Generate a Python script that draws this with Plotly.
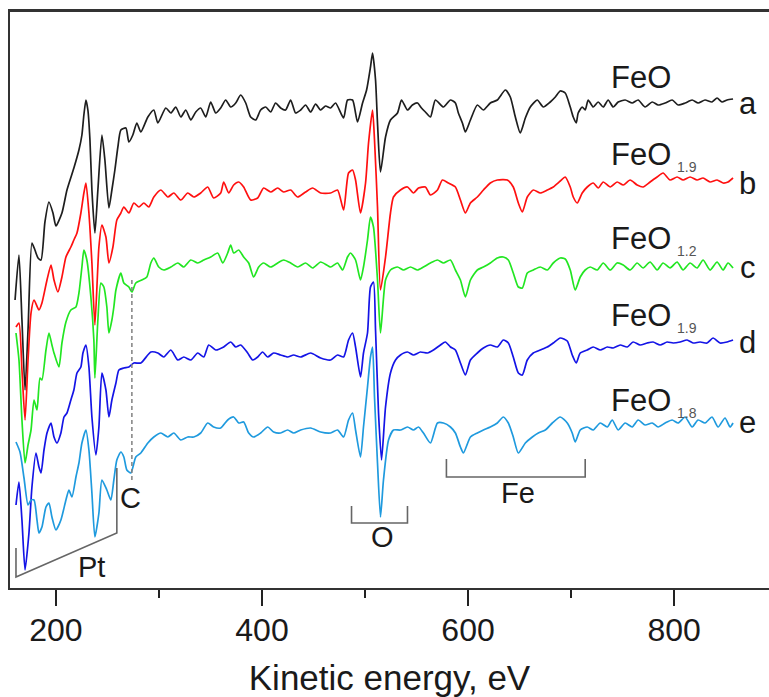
import plotly.graph_objects as go

# ---------------- data (kinetic energy in eV, intensity in arbitrary units, curves offset) ----------------
a_energy = [160.3,164.1,167.0,170.0,172.9,176.7,179.6,182.6,185.5,189.3,193.2,197.1,200.0,205.8,210.7,217.4,222.3,225.2,227.1,229.1,
            231.0,233.0,234.9,237.8,240.7,244.6,247.5,251.4,254.3,257.2,260.1,263.0,267.9,270.8,274.6,278.5,282.4,289.2,295.0,298.9,
            306.6,311.5,316.3,321.2,326.0,330.9,335.7,340.5,345.4,350.2,355.1,359.9,364.8,369.6,374.5,379.3,384.2,389.0,393.9,398.7,
            403.6,408.4,413.2,418.1,422.9,427.8,432.6,437.5,442.3,447.2,452.0,456.9,461.7,466.6,471.4,479.2,483.0,487.9,492.7,497.6,
            501.5,505.3,507.3,510.2,512.1,515.0,519.9,524.7,531.5,535.4,541.2,546.0,550.9,554.8,558.6,563.5,568.3,576.1,582.9,587.7,
            590.6,594.5,597.4,602.3,609.0,614.9,621.6,628.4,636.2,641.0,645.9,650.7,655.6,660.4,667.2,673.0,679.8,684.7,689.5,694.3,
            699.2,702.1,705.0,706.9,710.8,713.7,716.6,721.5,726.3,731.2,736.0,740.9,745.7,752.5,759.3,765.1,771.9,778.7,784.5,791.3,
            798.1,803.9,810.7,817.5,823.3,830.0,836.8,841.7,846.5,851.4,857.2]
a_intensity = [288,333,268,198,258,345,338,330,328,366,386,375,362,375,398,420,438,453,473,488,
               478,448,398,355,398,453,428,380,398,418,441,458,460,446,453,465,456,471,478,465,
               480,475,481,471,478,468,476,480,471,486,475,480,488,481,485,493,485,471,468,478,
               481,476,485,480,478,488,475,478,483,476,484,478,482,480,485,470,488,488,466,485,
               498,521,535,508,465,416,451,468,475,488,478,483,485,480,476,471,488,481,488,485,
               475,465,456,468,483,478,485,488,498,491,471,455,470,481,488,481,486,491,497,495,
               481,471,465,475,481,478,488,481,486,481,488,481,486,488,485,488,481,486,483,485,
               488,483,485,488,485,488,486,490,486,488,489]

b_energy = [161.2,164.1,167.0,170.0,172.9,175.8,178.7,183.5,186.4,191.3,195.2,198.1,201.9,205.8,209.7,214.5,217.4,220.4,224.2,227.1,
            229.1,232.0,234.9,237.8,241.7,244.6,248.5,251.4,255.3,259.1,263.0,265.9,270.8,275.6,280.5,285.3,290.1,295.0,301.8,308.6,
            314.4,321.2,327.9,333.8,340.5,347.3,353.1,359.9,362.8,367.7,372.5,377.4,382.2,389.0,395.8,401.6,408.4,415.2,421.0,427.8,
            434.6,442.3,449.1,456.9,466.6,473.3,479.2,484.0,487.9,490.8,495.6,500.5,503.4,507.3,509.2,512.1,515.0,519.9,524.7,527.6,
            534.4,541.2,547.0,551.9,558.6,563.5,570.3,575.1,580.9,587.7,592.6,597.4,602.3,609.0,614.9,621.6,628.4,638.1,643.9,648.8,
            652.7,657.5,663.3,670.1,676.9,682.7,689.5,694.3,699.2,702.1,706.0,710.8,715.7,721.5,726.3,731.2,738.0,744.7,750.6,757.3,
            764.1,769.9,776.7,783.5,789.3,796.1,802.9,808.7,815.5,822.3,828.1,834.9,841.7,847.5,852.3,857.2]
b_intensity = [261,265,218,168,228,275,288,278,285,308,323,308,296,311,331,341,348,355,375,395,
               405,375,325,263,341,363,351,325,341,368,375,381,375,385,381,385,381,391,398,391,
               395,388,395,391,395,401,390,395,406,395,403,406,401,388,390,400,396,400,396,398,
               391,396,400,395,395,398,378,415,418,408,375,405,445,478,448,381,298,331,375,391,
               398,401,395,400,401,393,398,408,405,401,388,375,385,391,398,405,408,408,401,385,
               376,391,398,395,398,401,407,411,401,391,385,395,401,405,400,406,401,406,403,408,
               403,401,406,411,415,408,411,408,411,408,410,406,408,405,406,410]

c_energy = [161.2,164.1,167.0,170.0,172.9,175.8,178.7,181.6,184.5,186.4,190.3,193.2,196.1,198.1,202.9,205.8,209.7,214.5,219.4,222.3,
            225.2,227.1,230.0,233.9,236.8,237.8,240.7,243.6,246.5,249.4,251.4,254.3,256.2,258.2,263.0,265.9,270.8,273.7,277.5,283.4,
            288.2,292.1,295.0,299.8,304.7,311.5,318.3,324.1,330.9,337.6,343.5,350.2,357.0,361.9,366.7,369.6,372.5,377.4,382.2,387.1,
            391.9,396.8,401.6,408.4,415.2,421.0,427.8,434.6,442.3,449.1,456.9,466.6,473.3,478.2,483.0,485.9,490.8,495.6,498.5,502.4,
            505.3,508.2,512.1,515.0,519.9,524.7,531.5,537.3,544.1,550.9,556.7,563.5,570.3,576.1,582.9,587.7,592.6,597.4,602.3,609.0,
            614.9,621.6,628.4,634.2,639.1,643.9,648.8,652.7,657.5,663.3,670.1,676.9,682.7,689.5,694.3,699.2,704.0,708.9,713.7,718.6,
            725.4,731.2,738.0,744.7,750.6,757.3,764.1,769.9,776.7,783.5,789.3,796.1,802.9,808.7,815.5,822.3,828.1,834.9,841.7,847.5,
            852.3,857.2]
c_intensity = [255,228,168,125,143,158,188,178,210,208,238,255,243,235,221,245,266,278,281,295,
               321,338,328,291,248,210,268,305,301,281,255,268,281,298,315,305,301,296,305,308,
               311,325,330,321,318,321,325,321,328,325,328,331,335,325,335,343,335,338,331,325,
               311,321,325,321,325,328,325,321,325,320,326,321,325,318,331,335,328,308,321,348,
               371,361,308,255,308,318,321,318,321,318,321,325,328,325,328,318,308,291,308,318,
               321,325,330,331,328,315,301,300,315,318,321,318,325,330,329,318,298,311,318,321,
               318,325,318,325,323,318,325,320,326,318,325,320,326,318,325,320,328,318,326,318,
               325,320]

d_energy = [161.2,164.1,167.0,170.0,173.8,176.7,180.6,183.5,185.5,188.4,191.3,195.2,198.1,201.0,204.8,207.8,210.7,214.5,217.4,220.4,
            224.2,226.2,229.1,232.0,234.9,238.8,241.7,244.6,248.5,251.4,254.3,258.2,261.1,265.9,270.8,275.6,282.4,292.1,298.9,304.7,
            311.5,318.3,324.1,330.9,337.6,343.5,348.3,355.1,362.8,369.6,374.5,379.3,386.1,390.9,395.8,400.6,405.5,411.3,418.1,424.9,
            430.7,437.5,447.2,456.9,466.6,473.3,479.2,484.0,487.9,490.8,495.6,498.5,502.4,505.3,508.2,510.2,513.1,516.0,519.9,524.7,
            529.6,534.4,541.2,547.0,553.8,560.6,566.4,573.2,578.0,582.9,587.7,592.6,597.4,602.3,609.0,614.9,621.6,628.4,634.2,639.1,
            643.9,648.8,652.7,657.5,663.3,670.1,676.9,682.7,689.5,696.3,701.1,705.0,708.9,715.7,721.5,728.3,735.1,740.9,747.7,754.5,
            760.2,767.0,773.8,779.6,786.4,793.2,799.0,805.8,812.6,818.4,825.2,832.0,837.8,844.6,851.4,857.2]
d_intensity = [83,106,68,18,55,101,135,121,115,138,155,165,151,145,155,171,175,188,198,215,
               221,235,243,221,171,133,161,215,198,171,188,205,218,220,221,225,225,236,235,231,
               238,228,231,228,235,231,243,238,241,246,241,243,235,228,231,236,231,235,233,231,
               233,231,235,230,228,233,231,248,255,241,211,235,255,301,306,258,175,128,181,215,
               228,233,236,233,236,235,238,243,246,241,238,225,213,228,235,240,243,241,248,245,
               231,215,213,228,235,238,241,245,250,247,233,225,235,238,241,238,241,240,243,241,
               246,243,245,246,243,246,245,246,248,245,246,245,250,245,246,248]

e_energy = [161.2,165.1,169.0,172.9,175.8,178.7,181.6,183.5,186.4,190.3,193.2,196.1,200.0,204.8,209.7,212.6,215.5,219.4,222.3,225.2,
            229.1,232.0,234.9,237.8,241.7,244.6,249.4,253.3,256.2,259.1,263.0,265.9,268.8,272.7,277.5,282.4,289.2,295.0,301.8,308.6,
            314.4,321.2,327.9,333.8,340.5,347.3,353.1,359.9,366.7,372.5,377.4,382.2,387.1,391.9,398.7,405.5,411.3,418.1,424.9,430.7,
            437.5,447.2,456.9,466.6,473.3,479.2,484.0,487.9,490.8,495.6,498.5,502.4,505.3,507.3,509.2,512.1,515.0,517.9,522.8,527.6,
            534.4,541.2,547.0,551.9,556.7,563.5,570.3,576.1,582.9,587.7,592.6,595.5,602.3,609.0,614.9,621.6,628.4,634.2,639.1,643.9,
            648.8,655.6,662.4,668.2,675.0,681.8,689.5,696.3,701.1,704.0,708.9,715.7,721.5,728.3,735.1,739.9,745.7,752.5,759.3,765.1,
            771.9,778.7,784.5,791.3,798.1,803.9,810.7,817.5,823.3,830.0,836.8,842.7,849.4,854.3,857.2]
e_intensity = [146,136,110,83,88,88,68,55,61,81,85,71,58,68,88,98,91,111,125,145,
               158,138,95,51,75,108,98,88,108,128,136,131,118,115,131,135,145,151,155,151,
               155,148,151,151,155,165,161,160,168,171,165,166,155,151,155,161,156,155,158,155,
               158,160,156,155,158,151,168,175,158,131,161,201,231,241,191,125,71,108,148,158,
               158,161,158,161,155,145,165,165,161,155,141,135,151,155,158,161,165,171,165,151,
               135,145,151,155,158,165,171,165,155,146,158,161,158,165,161,168,158,165,161,168,
               163,165,161,165,168,165,171,161,168,165,171,161,170,161,165]

series_names = ["a", "b", "c", "d", "e"]
series_colors = ["#1e1e1e", "#ff1010", "#22e622", "#1414e6", "#1f9ade"]

label_main = ["FeO", "FeO", "FeO", "FeO", "FeO"]
label_sub = ["", "1.9", "1.2", "1.9", "1.8"]
label_y = [511, 434, 350, 273, 188]          # intensity level of the FeO labels
letter_y = [485, 405, 321, 246, 166]         # intensity level of the a..e letters

tick_values = [200, 400, 600, 800]
minor_tick_values = [300, 500, 700]

# ---------------- figure ----------------
fig = go.Figure()
all_x = [a_energy, b_energy, c_energy, d_energy, e_energy]
all_y = [a_intensity, b_intensity, c_intensity, d_intensity, e_intensity]
for xs, ys, col, nm in zip(all_x, all_y, series_colors, series_names):
    fig.add_trace(go.Scatter(x=xs, y=ys, mode="lines", name=nm,
                             line=dict(color=col, width=1.7, shape="spline", smoothing=0.6),
                             showlegend=False, hoverinfo="skip"))

FONT = "Liberation Sans, Arial, sans-serif"
ann = []
for main, sub, ly, lty, nm in zip(label_main, label_sub, label_y, letter_y, series_names):
    ann.append(dict(x=768, y=ly, xref="x", yref="y", text=main, showarrow=False,
                    font=dict(family=FONT, size=31, color="#1a1a1a")))
    if sub:
        ann.append(dict(x=812.6, y=ly - 13, xref="x", yref="y", text=sub, showarrow=False,
                        font=dict(family=FONT, size=14, color="#555555")))
    ann.append(dict(x=871.7, y=lty, xref="x", yref="y", text=nm, showarrow=False,
                    font=dict(family=FONT, size=31, color="#1a1a1a")))

ann.append(dict(x=234.9, y=21, xref="x", yref="y", text="Pt", showarrow=False,
                font=dict(family=FONT, size=29, color="#1a1a1a")))
ann.append(dict(x=272.7, y=90, xref="x", yref="y", text="C", showarrow=False,
                font=dict(family=FONT, size=29, color="#1a1a1a")))
ann.append(dict(x=517.0, y=51, xref="x", yref="y", text="O", showarrow=False,
                font=dict(family=FONT, size=29, color="#1a1a1a")))
ann.append(dict(x=648.8, y=95, xref="x", yref="y", text="Fe", showarrow=False,
                font=dict(family=FONT, size=29, color="#1a1a1a")))

bracket_line = dict(color="#666666", width=1.6)
shapes = [
    dict(type="path", xref="x", yref="y", path="M 161.2,40 L 161.2,11 L 259.1,55 L 259.1,120", line=bracket_line),
    dict(type="path", xref="x", yref="y", path="M 486.9,82 L 486.9,65 L 541.2,65 L 541.2,82", line=bracket_line),
    dict(type="path", xref="x", yref="y", path="M 579.0,129 L 579.0,111 L 713.7,111 L 713.7,129", line=bracket_line),
    dict(type="line", xref="x", yref="y", x0=273.7, x1=273.7, y0=308, y1=106,
         line=dict(color="#808080", width=1.5, dash="4px,3px")),
    dict(type="line", xref="paper", yref="paper", x0=0, x1=1, y0=1, y1=1,
         line=dict(color="#333333", width=2)),
]

fig.update_layout(
    width=769, height=697,
    margin=dict(l=10, r=0, t=11, b=109),
    plot_bgcolor="white", paper_bgcolor="white",
    annotations=ann, shapes=shapes,
    font=dict(family=FONT, color="#1a1a1a"),
    xaxis=dict(range=[155.4, 892.1], tickvals=tick_values, ticks="outside", ticklen=16, tickwidth=2,
               tickcolor="#222222", showline=True, linewidth=2, linecolor="#333333", mirror=True,
               showgrid=False, zeroline=False, tickfont=dict(size=32, family=FONT, color="#1a1a1a"),
               ticklabelstandoff=-3,
               minor=dict(tickvals=minor_tick_values, ticks="outside", ticklen=8, tickwidth=2, tickcolor="#222222"),
               title=dict(text="Kinetic energy, eV", font=dict(size=35, family=FONT, color="#1a1a1a"), standoff=21)),
    yaxis=dict(range=[0, 577], showline=True, linewidth=2, linecolor="#333333", mirror=False,
               showticklabels=False, ticks="", showgrid=False, zeroline=False),
)

fig.write_html("out.html", config={"displayModeBar": False},
               post_script="document.body.style.margin='0';document.body.style.overflow='hidden';")
